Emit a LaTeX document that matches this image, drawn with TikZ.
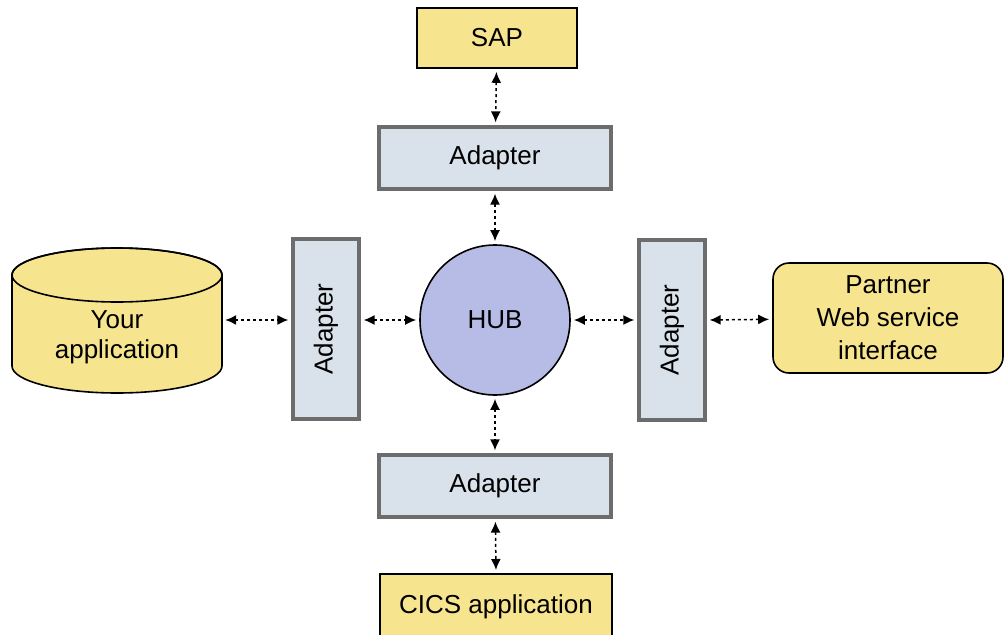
\documentclass[tikz,border=0pt]{standalone}
\usepackage{fontspec}
\setmainfont{Liberation Sans}
\usetikzlibrary{arrows.meta}
\definecolor{appyellow}{HTML}{F6E48E}
\definecolor{adfill}{HTML}{D9E2EB}
\definecolor{adline}{HTML}{6C6C6C}
\definecolor{hubfill}{HTML}{B7BCE6}
\tikzset{
  labelfont/.style={font=\fontsize{26}{30}\selectfont},
  appbox/.style={draw=black, line width=1.6pt, fill=appyellow, labelfont, align=center},
  adbox/.style={draw=adline, line width=3.2pt, fill=adfill, labelfont},
  link/.style={dash pattern=on 3pt off 3pt, line width=1.5pt, {Latex[length=11pt,width=10pt]}-{Latex[length=11pt,width=10pt]}, shorten <=3pt, shorten >=3pt}
}
\begin{document}
\begin{tikzpicture}[x=1pt,y=-1pt]
  \useasboundingbox (0,0) rectangle (1005,635);
  \clip (0,0) rectangle (1005,635);
  \fill[white] (0,0) rectangle (1005,635);
  \node[appbox, minimum width=160pt, minimum height=60pt] (sap) at (497,38) {SAP}; % top
  \node[adbox, minimum width=232pt, minimum height=62pt] (adtop) at (495,158) {Adapter};
  \node[circle, draw=black, line width=1.6pt, fill=hubfill, minimum size=150pt, labelfont] (hub) at (495,320) {HUB};
  \node[adbox, minimum width=232pt, minimum height=62pt] (adbot) at (495,486) {Adapter};
  \node[appbox, minimum width=232pt, minimum height=66pt, anchor=north] (cics) at (496,573) {CICS application}; % bottom
  \node[adbox, rotate=90, minimum width=180pt, minimum height=66pt] (adleft) at (326,329) {Adapter};
  \node[adbox, rotate=90, minimum width=180pt, minimum height=66pt] (adright) at (672,330) {Adapter};
  % left: drum drawn by hand
  \filldraw[fill=appyellow, draw=black, line width=1.6pt] (12,275) -- (12,366)
    arc[start angle=180, end angle=0, x radius=105, y radius=27] -- (222,275)
    arc[start angle=0, end angle=-180, x radius=105, y radius=27] -- cycle;
  \draw[black, line width=1.6pt] (117,275) ellipse [x radius=105, y radius=27];
  \node[minimum width=210pt, minimum height=146pt, labelfont, align=center, text depth=0pt] (yourapp) at (117,335) {Your\\application};
  \node[appbox, font=\fontsize{26}{33}\selectfont, rounded corners=16pt, minimum width=230pt, minimum height=110pt] (partner) at (888,318) {Partner\\Web service\\interface}; % right
  \draw[link] (sap) -- (adtop);
  \draw[link] (adtop) -- (hub);
  \draw[link] (hub) -- (adbot);
  \draw[link] (adbot) -- (cics.north);
  \draw[link] (yourapp.east |- hub) -- (adleft.north |- hub);
  \draw[link] (adleft.south |- hub) -- (hub);
  \draw[link] (hub) -- (adright.north |- hub);
  \draw[link] (adright.south |- hub) -- (partner);
\end{tikzpicture}
\end{document}
